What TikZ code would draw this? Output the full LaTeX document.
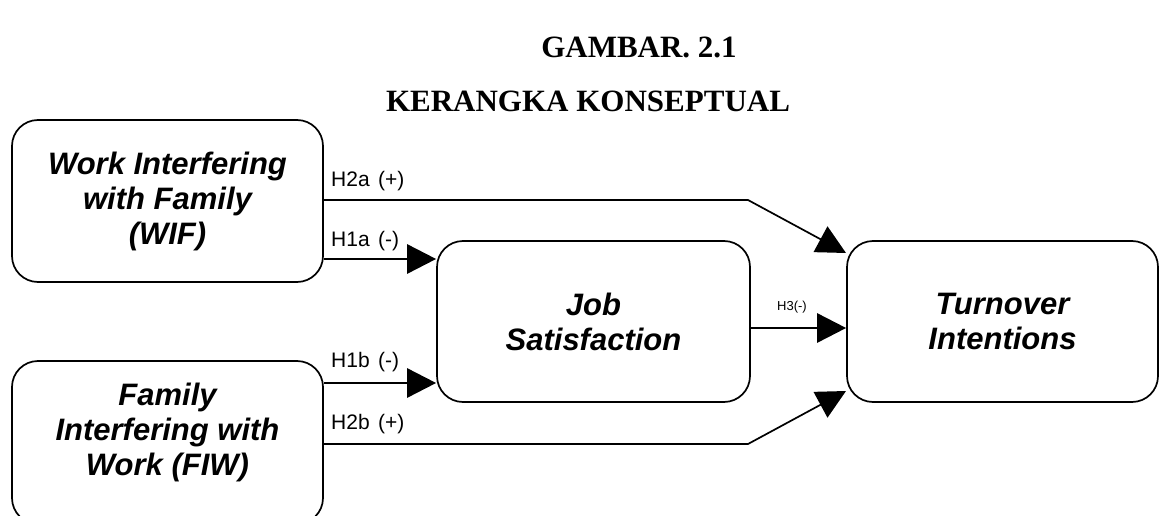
\documentclass[tikz,border=0pt]{standalone}
\usepackage{fontspec}
\setmainfont{Liberation Serif}
\newfontfamily\arialf{Liberation Sans}
\usetikzlibrary{arrows.meta}
\begin{document}
\begin{tikzpicture}[x=1pt,y=-1pt,
  box/.style={draw, line width=1.7pt, rounded corners=26pt, inner sep=0pt},
  boxtext/.style={font=\arialf\bfseries\itshape\fontsize{31}{35}\selectfont, align=center},
  lbl/.style={font=\arialf\fontsize{21}{24}\selectfont, anchor=base west, inner sep=0pt},
  thinconn/.style={line width=1.7pt, -{Triangle[length=29pt,width=29pt]}},
  thickconn/.style={line width=2.8pt, -{Triangle[length=29pt,width=29pt]}},
  titletext/.style={font=\bfseries\fontsize{31}{36}\selectfont, inner sep=0pt}
]
\useasboundingbox (0,0) rectangle (1159,516);
\fill[white] (0,0) rectangle (1159,516);

% titles
\node[titletext, anchor=base] (t1) at (639,58) {GAMBAR. 2.1};
\node[titletext, anchor=base] (t2) at (588,112) {KERANGKA KONSEPTUAL};

% boxes
\node[box, boxtext, minimum width=311pt, minimum height=162pt] (wif) at (167.5,201)
  {Work Interfering\\with Family\\(WIF)};
\node[box, minimum width=311pt, minimum height=163pt] (fiw) at (167.5,442.5) {};
\node[boxtext] (fiwt) at (167.5,432) {Family\\Interfering with\\Work (FIW)};
\node[box, boxtext, minimum width=313pt, minimum height=161pt] (job) at (593.5,321.5)
  {Job\\Satisfaction};
\node[box, boxtext, minimum width=311pt, minimum height=161pt] (turn) at (1002.5,321.5)
  {Turnover\\Intentions};

% bend points
\coordinate (b2a) at (748,200);
\coordinate (b2b) at (748,444);
\coordinate (e2a) at (846,253);
\coordinate (e2b) at (846,391);

% connectors
\draw[thinconn] (wif.east |- b2a) -- (b2a) -- (e2a);
\draw[thinconn] (fiw.east |- b2b) -- (b2b) -- (e2b);
\draw[thickconn] (wif.east |- 0,259) -- (job.west |- 0,259);
\draw[thickconn] (fiw.east |- 0,383) -- (job.west |- 0,383);
\draw[thickconn] (job.east |- 0,328) -- (turn.west |- 0,328);

% labels
\node[lbl] (l2a) at (331,186) {H2a\hspace{0.4em}(+)};
\node[lbl] (l1a) at (331,246) {H1a\hspace{0.4em}(-)};
\node[lbl] (l1b) at (331,367) {H1b\hspace{0.4em}(-)};
\node[lbl] (l2b) at (331,429) {H2b\hspace{0.4em}(+)};
\node[font=\arialf\fontsize{13}{15}\selectfont, inner sep=0pt] (l3) at (792,307) {H3(-)};
\end{tikzpicture}
\end{document}
